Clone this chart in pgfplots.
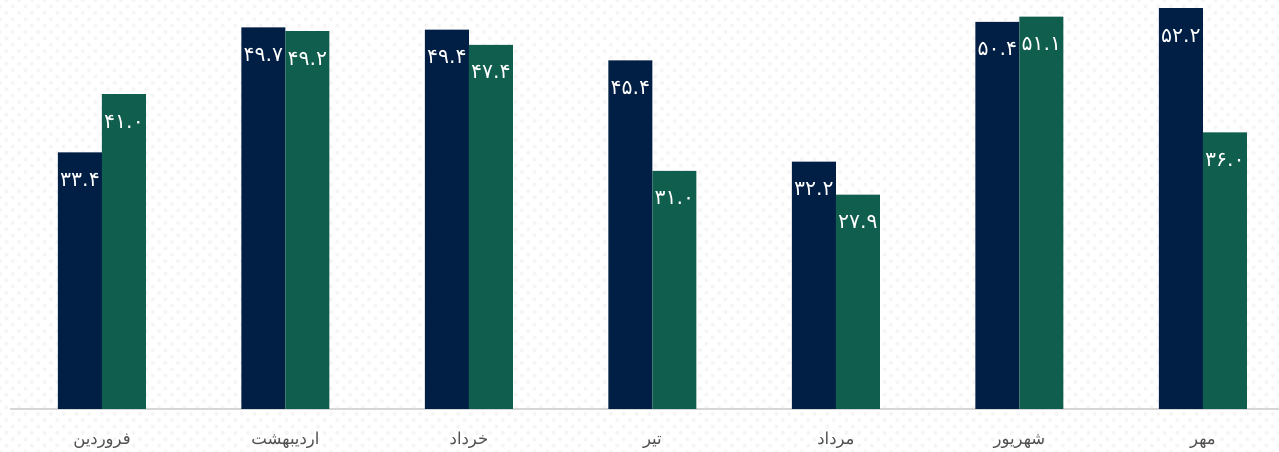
\documentclass[border=0pt]{standalone}
\usepackage{fontspec}
\usepackage{pgfplots}
\pgfplotsset{compat=1.18}
\usetikzlibrary{patterns.meta}
\TeXXeTstate=1
\newfontfamily\fa[Script=Arabic]{DejaVu Sans}
\definecolor{barnavy}{RGB}{1,31,69}
\definecolor{bargreen}{RGB}{16,94,78}
\definecolor{lbl}{RGB}{80,80,80}

\begin{document}
\begin{tikzpicture}
\path[use as bounding box, clip] (0pt,0pt) rectangle (1279pt,452pt);
\fill[white] (0pt,0pt) rectangle (1279pt,452pt);
\fill[pattern={Dots[distance=9pt, radius=2pt, angle=45]}, pattern color=black!4] (0pt,0pt) rectangle (1279pt,452pt);
\begin{axis}[
    at={(10.25pt,43pt)}, anchor=south west,
    scale only axis, width=1284.5pt, height=409pt,
    xmin=-0.5, xmax=6.5, ymin=0, ymax=53.25,
    ybar=0pt, bar width=44pt,
    axis y line=none, axis x line*=bottom,
    x axis line style={draw=black!16, line width=1.5pt, -},
    xtick={0,...,6}, major tick length=0pt,
    xticklabels={
      {\beginR فروردین\endR},
      {\beginR اردیبهشت\endR},
      {\beginR خرداد\endR},
      {\beginR تیر\endR},
      {\beginR مرداد\endR},
      {\beginR شهریور\endR},
      {\beginR مهر\endR}},
    xticklabel style={font=\fa\fontsize{16.5}{16.5}\selectfont, text=lbl, anchor=base, yshift=-35pt},
    nodes near coords, point meta=explicit symbolic,
    every node near coord/.append style={font=\fa\fontsize{20.5}{20.5}\selectfont, text=white, anchor=base, yshift=-34pt},
]
\addplot[fill=barnavy, draw=none] coordinates {
    (0,33.4) [۳۳.۴] (1,49.7) [۴۹.۷] (2,49.4) [۴۹.۴] (3,45.4) [۴۵.۴]
    (4,32.2) [۳۲.۲] (5,50.4) [۵۰.۴] (6,52.2) [۵۲.۲]
};
\addplot[fill=bargreen, draw=none] coordinates {
    (0,41.0) [۴۱.۰] (1,49.2) [۴۹.۲] (2,47.4) [۴۷.۴] (3,31.0) [۳۱.۰]
    (4,27.9) [۲۷.۹] (5,51.1) [۵۱.۱] (6,36.0) [۳۶.۰]
};
\end{axis}
\end{tikzpicture}
\end{document}
